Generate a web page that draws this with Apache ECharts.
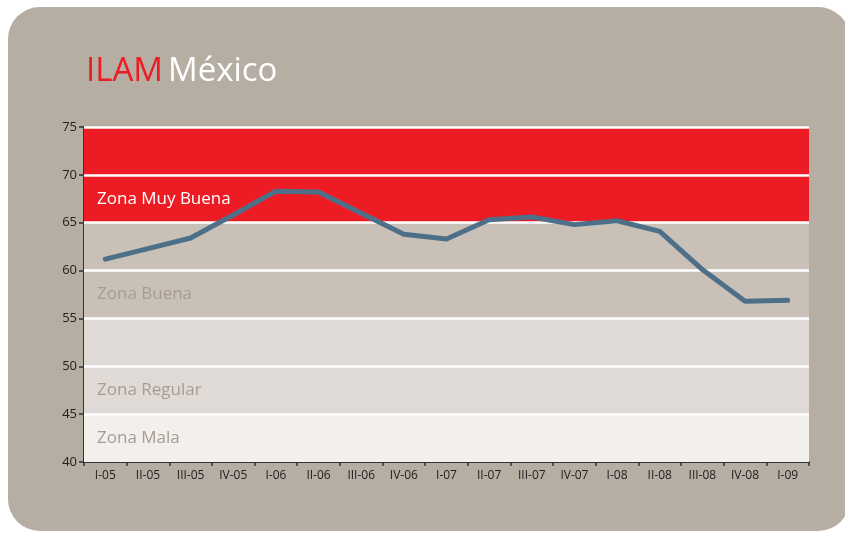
<!DOCTYPE html>
<html>
<head>
<meta charset="utf-8">
<script src="https://cdn.jsdelivr.net/npm/echarts@6/dist/echarts.min.js"></script>
<style>
  html, body { margin: 0; padding: 0; background: #ffffff; }
  #card { position: absolute; left: 8px; top: 7px; width: 842px; height: 524px; background: #b6ada3; border-radius: 32px; }
  #chart { position: absolute; left: 0; top: 0; width: 845px; height: 533px; }
</style>
</head>
<body>
<div id="card"></div>
<div id="chart"></div>
<script>
// Data
const categories = ['I-05','II-05','III-05','IV-05','I-06','II-06','III-06','IV-06','I-07','II-07','III-07','IV-07','I-08','II-08','III-08','IV-08','I-09'];
const ilamValues = [61.2, 62.3, 63.4, 65.8, 68.3, 68.2, 66.0, 63.8, 63.3, 65.3, 65.6, 64.8, 65.2, 64.1, 60.1, 56.8, 56.9];
const yTicks = [40, 45, 50, 55, 60, 65, 70, 75];
const zoneBands = [
  { from: 70, to: 75, name: '',               color: '#ed1c24', text: '#ffffff' },
  { from: 65, to: 70, name: 'Zona Muy Buena', color: '#ed1c24', text: '#ffffff' },
  { from: 60, to: 65, name: '',               color: '#c9c1b8', text: '#a69c93' },
  { from: 55, to: 60, name: 'Zona Buena',     color: '#c9c1b8', text: '#a69c93' },
  { from: 50, to: 55, name: '',               color: '#dfdad5', text: '#a69c93' },
  { from: 45, to: 50, name: 'Zona Regular',   color: '#dfdad5', text: '#a69c93' },
  { from: 40, to: 45, name: 'Zona Mala',      color: '#f2efec', text: '#a69c93' }
];
const titleRed = 'ILAM';
const titleWhite = 'México';

const chart = echarts.init(document.getElementById('chart'), null, { renderer: 'canvas' });
const FONT = '"Open Sans", "Noto Sans", sans-serif';

chart.setOption({
  backgroundColor: 'transparent',
  animation: false,
  title: {
    left: 81, top: 50,
    text: '{r|' + titleRed + '} {w|' + titleWhite + '}',
    textStyle: {
      fontWeight: 'normal',
      rich: {
        r: { color: '#ed1c24', fontSize: 33, fontFamily: FONT, fontWeight: 'normal' },
        w: { color: '#ffffff', fontSize: 33, fontFamily: FONT, fontWeight: 'normal' }
      }
    }
  },
  grid: { left: 84, right: 36, top: 127, bottom: 71, containLabel: false },
  xAxis: {
    type: 'category',
    data: categories,
    boundaryGap: true,
    axisLine: { show: true, lineStyle: { color: '#333333', width: 2 } },
    axisTick: { show: true, alignWithLabel: false, length: 4, lineStyle: { color: '#333333', width: 1.5 } },
    axisLabel: { color: '#222222', fontSize: 12, fontFamily: FONT, margin: 8, interval: 0 },
    splitLine: { show: false }
  },
  yAxis: {
    type: 'value',
    min: 40, max: 75, interval: 5,
    axisLine: { show: true, lineStyle: { color: '#333333', width: 2 } },
    axisTick: { show: true, length: 5, lineStyle: { color: '#333333', width: 1.5 } },
    axisLabel: { color: '#222222', fontSize: 13, fontFamily: FONT, margin: 7 },
    splitLine: { show: false }
  },
  series: [
    {
      type: 'line',
      data: [],
      z: 1,
      silent: true,
      markArea: {
        silent: true,
        data: zoneBands.map(b => ([
          {
            yAxis: b.from,
            itemStyle: { color: b.color },
            label: {
              show: b.name !== '',
              formatter: b.name,
              position: 'insideLeft',
              distance: 13,
              color: b.text,
              fontSize: 17,
              fontFamily: FONT
            }
          },
          { yAxis: b.to }
        ]))
      },
      markLine: {
        silent: true,
        symbol: ['none', 'none'],
        label: { show: false },
        lineStyle: { color: '#ffffff', width: 2.5, type: 'solid' },
        data: yTicks.filter(v => v > 40).map(v => ({ yAxis: v }))
      }
    },
    {
      type: 'line',
      name: 'ILAM',
      data: ilamValues,
      z: 5,
      symbol: 'none',
      smooth: false,
      lineStyle: { color: '#4d6f88', width: 5, cap: 'round', join: 'round' }
    }
  ]
});
</script>
</body>
</html>
